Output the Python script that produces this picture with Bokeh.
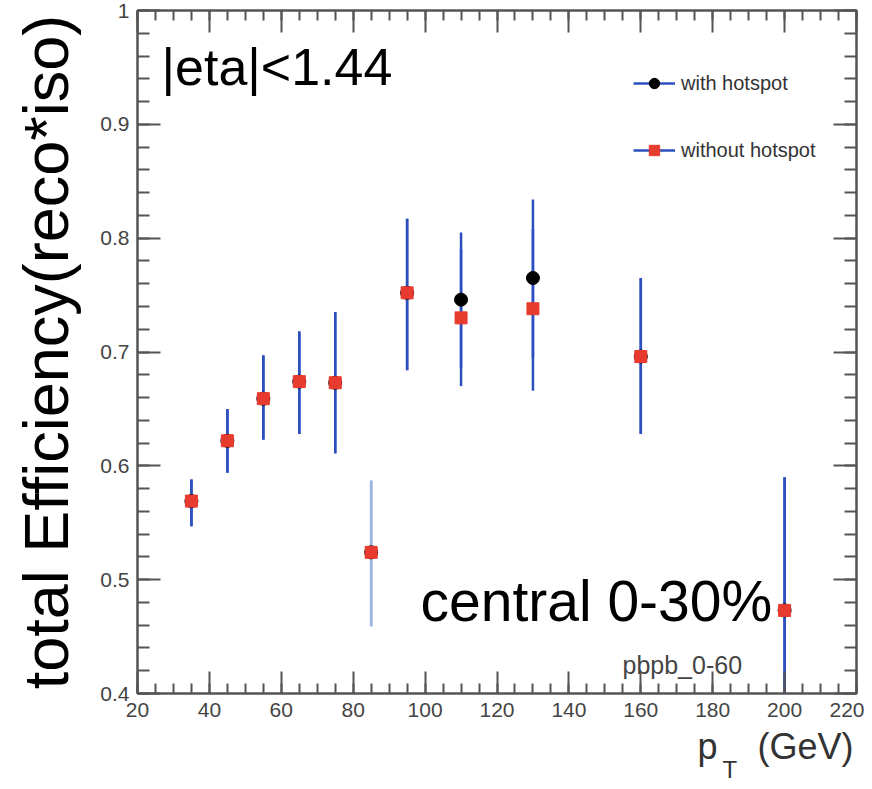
from bokeh.plotting import figure
from bokeh.models import (ColumnDataSource, FixedTicker, LinearAxis, Label,
                          Legend, LegendItem, Range1d, Title, CustomJSTickFormatter)
from bokeh.embed import file_html
from bokeh.resources import INLINE

# pT bins (GeV)
pt = [35, 45, 55, 65, 75, 85, 95, 110, 130, 160, 200]

# without hotspot (red)
eff_without = [0.569, 0.622, 0.659, 0.674, 0.673, 0.524, 0.752, 0.730, 0.738, 0.696, 0.473]
up_without = [0.588, 0.650, 0.697, 0.718, 0.735, 0.587, 0.817, 0.790, 0.808, 0.765, 0.590]
lo_without = [0.547, 0.594, 0.623, 0.628, 0.611, 0.459, 0.684, 0.670, 0.666, 0.628, 0.355]

# with hotspot (black) - only differs at 110 and 130
eff_with = [0.569, 0.622, 0.659, 0.674, 0.673, 0.524, 0.752, 0.746, 0.765, 0.696, 0.473]
up_with = [0.588, 0.650, 0.697, 0.718, 0.735, 0.587, 0.817, 0.805, 0.834, 0.765, 0.590]
lo_with = [0.547, 0.594, 0.623, 0.628, 0.611, 0.459, 0.684, 0.686, 0.695, 0.628, 0.355]

x_ticks = [20, 40, 60, 80, 100, 120, 140, 160, 180, 200, 220]
y_ticks = [0.4, 0.5, 0.6, 0.7, 0.8, 0.9, 1.0]

FONT = "Liberation Sans"
FRAME = "#555555"
BLUE = "#2b4fbf"
LIGHT = "#9db1e2"
RED = "#e83b2f"

bar_colors = [LIGHT if x == 85 else BLUE for x in pt]

src_with = ColumnDataSource(dict(x=pt, y=eff_with, lo=lo_with, up=up_with, c=bar_colors))
src_without = ColumnDataSource(dict(x=pt, y=eff_without, lo=lo_without, up=up_without, c=bar_colors))

p = figure(width=864, height=781, x_range=Range1d(20, 220), y_range=Range1d(0.4, 1.0),
           output_backend="svg", toolbar_location=None,
           min_border_left=137, min_border_right=8, min_border_top=10, min_border_bottom=88)
p.grid.visible = False
p.outline_line_color = FRAME
p.outline_line_width = 2
p.background_fill_color = "white"

p.add_layout(LinearAxis(), "above")
p.add_layout(LinearAxis(), "right")

for ax in p.xaxis:
    ax.ticker = FixedTicker(ticks=x_ticks, minor_ticks=list(range(20, 225, 5)))
for ax in p.yaxis:
    ax.ticker = FixedTicker(ticks=y_ticks, minor_ticks=[round(0.4 + 0.02 * i, 2) for i in range(31)])

for ax in p.axis:
    ax.axis_line_color = FRAME
    ax.axis_line_width = 2
    ax.major_tick_line_color = FRAME
    ax.minor_tick_line_color = FRAME
    ax.major_tick_line_width = 2
    ax.minor_tick_line_width = 2
    ax.major_tick_out = 0
    ax.minor_tick_out = 0
    ax.major_label_text_font = FONT
    ax.major_label_text_font_size = "21px"
    ax.major_label_text_color = "#444444"

for ax in p.xaxis:
    ax.major_tick_in = 22
    ax.minor_tick_in = 10
for ax in p.yaxis:
    ax.major_tick_in = 23
    ax.minor_tick_in = 12

p.below[0].major_label_standoff = 9
p.left[0].major_label_standoff = 8
p.left[0].major_label_overrides = {1: "1"}
for ax in (p.above[0], p.right[0]):
    ax.formatter = CustomJSTickFormatter(code="return ''")
    ax.major_label_standoff = 0

p.yaxis[0].axis_label = "total Efficiency(reco*iso)"
p.yaxis[0].axis_label_text_font = FONT
p.yaxis[0].axis_label_text_font_size = "63px"
p.yaxis[0].axis_label_text_font_style = "normal"
p.yaxis[0].axis_label_text_color = "black"
p.yaxis[0].axis_label_standoff = 16

# error bars then markers
seg_with = p.segment(x0="x", y0="lo", x1="x", y1="up", source=src_with, line_color="c", line_width=2.5)
seg_without = p.segment(x0="x", y0="lo", x1="x", y1="up", source=src_without, line_color="c", line_width=2.5)
dot_with = p.scatter(x="x", y="y", source=src_with, marker="circle", size=13,
                     fill_color="black", line_color="black")
sq_without = p.scatter(x="x", y="y", source=src_without, marker="square", size=12,
                       fill_color=RED, line_color=RED)

legend = Legend(items=[LegendItem(label="with hotspot", renderers=[seg_with, dot_with], index=0),
                       LegendItem(label="without hotspot", renderers=[seg_without, sq_without], index=0)],
                location=(496, 530), orientation="vertical",
                glyph_width=42, glyph_height=26, label_standoff=6, spacing=41,
                padding=0, margin=0, border_line_alpha=0, background_fill_alpha=0,
                label_text_font=FONT, label_text_font_size="20px", label_text_color="#333333")
p.add_layout(legend)

# texts inside the frame
p.add_layout(Label(x=20, y=1.0, x_offset=24, y_offset=-56, text="|eta|<1.44",
                   text_font=FONT, text_font_size="52px", text_color="black",
                   text_baseline="alphabetic"))
p.add_layout(Label(x=20, y=0.4, x_offset=283, y_offset=93, text="central 0-30%",
                   text_font=FONT, text_font_size="57px", text_color="black",
                   text_baseline="alphabetic"))
p.add_layout(Label(x=20, y=0.4, x_offset=485, y_offset=29, text="pbpb_0-60",
                   text_font=FONT, text_font_size="25px", text_color="#444444",
                   text_baseline="alphabetic"))

# x axis title: p_T (GeV), as titles stacked below the axis
p.add_layout(Title(text="p\u00a0\u00a0\u00a0\u00a0(GeV)", align="right", offset=3, standoff=8,
                   text_font=FONT, text_font_size="36px", text_font_style="normal",
                   text_color="#333333"), "below")
p.add_layout(Title(text="T", align="left", offset=585, standoff=-29, vertical_align="top",
                   text_font=FONT, text_font_size="24px", text_font_style="normal",
                   text_color="#333333"), "below")

open("out.html", "w").write(file_html(p, INLINE))
